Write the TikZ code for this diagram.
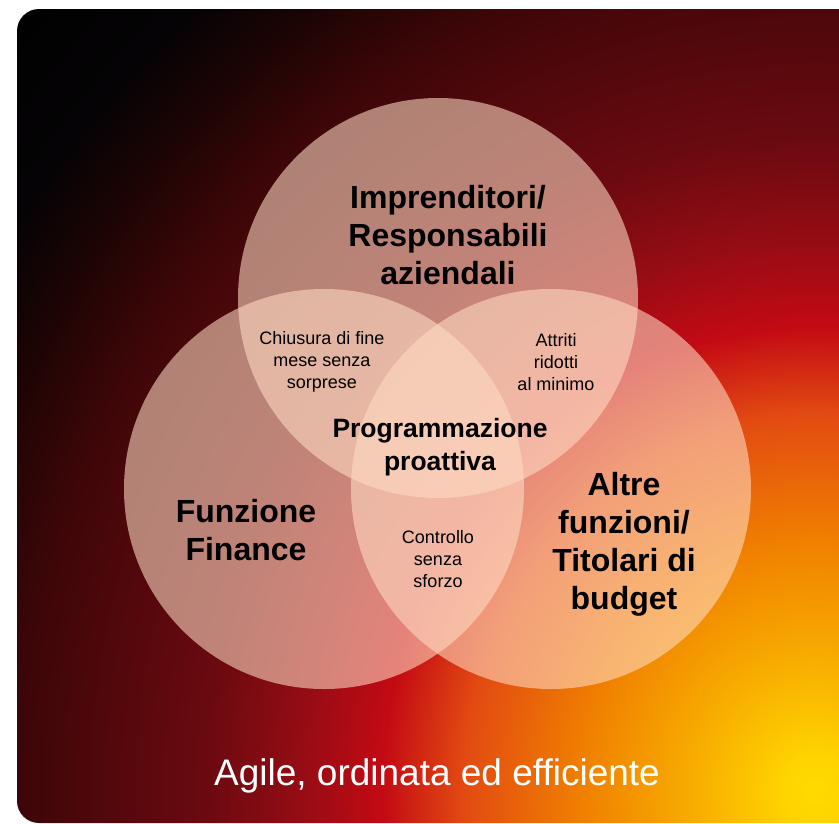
\documentclass[tikz,border=0pt]{standalone}
\usepackage{fontspec}
\setmainfont{Liberation Sans}
\definecolor{g0}{HTML}{FFDA00}
\definecolor{g1}{HTML}{FFD400}
\definecolor{g2}{HTML}{F8B000}
\definecolor{g3}{HTML}{F08000}
\definecolor{g4}{HTML}{E24A12}
\definecolor{g5}{HTML}{C30A14}
\definecolor{g6}{HTML}{950C14}
\definecolor{g7}{HTML}{6A0A10}
\definecolor{g8}{HTML}{3E0608}
\definecolor{g9}{HTML}{1A0404}
\definecolor{g10}{HTML}{050305}
\definecolor{g11}{HTML}{000000}
\definecolor{circfill}{HTML}{FFDCC4}
\pgfdeclareradialshading{bgshade}{\pgfpointorigin}{color(0bp)=(g0); color(0.65bp)=(g1); color(2.5bp)=(g2); color(5.07bp)=(g3); color(7.65bp)=(g4); color(9.41bp)=(g5); color(11.2bp)=(g6); color(13.26bp)=(g7); color(17.17bp)=(g8); color(19.35bp)=(g9); color(20.87bp)=(g10); color(25bp)=(g11); color(50bp)=(g11)}
\tikzset{
  vcircle/.style={circle, minimum size=400, inner sep=0pt, fill=circfill, fill opacity=0.58},
  bighead/.style={font=\fontsize{32}{38}\selectfont\bfseries, align=center, text=black, inner sep=0pt},
  midhead/.style={font=\fontsize{26.5}{33}\selectfont\bfseries, align=center, text=black, inner sep=0pt},
  smalltxt/.style={font=\fontsize{18}{21.7}\selectfont, align=center, text=black, inner sep=0pt},
  bottomtxt/.style={font=\fontsize{37}{42}\selectfont, text=white, inner sep=0pt}
}
\begin{document}
\begin{tikzpicture}[x=1pt,y=-1pt]
\useasboundingbox (0,0) rectangle (839,823);
\begin{scope}
  \clip[rounded corners=22pt] (17,9) rectangle (870,823);
  \path[shading=bgshade] (815,790) ellipse[x radius=1150, y radius=1230];
\end{scope}
\node[vcircle] (ctop) at (438,298) {};
\node[vcircle] (cleft) at (324,489) {};
\node[vcircle] (cright) at (551,489) {};
\node[bighead] (impr) at (448,235) {Imprenditori/\\Responsabili\\aziendali};
\node[bighead] (fin) at (246,530) {Funzione\\Finance};
\node[bighead] (altre) at (624,544) {Altre\\funzioni/\\Titolari di\\budget};
\node[smalltxt] (chius) at (322,362) {Chiusura di fine\\mese senza\\sorprese};
\node[smalltxt] (attr) at (556,362) {Attriti\\ridotti\\al minimo};
\node[midhead] (prog) at (440,447) {Programmazione\\proattiva};
\node[smalltxt] (ctrl) at (438,559) {Controllo\\senza\\sforzo};
\node[bottomtxt, anchor=base] (agile) at (437,785) {Agile, ordinata ed efficiente};
\end{tikzpicture}
\end{document}
